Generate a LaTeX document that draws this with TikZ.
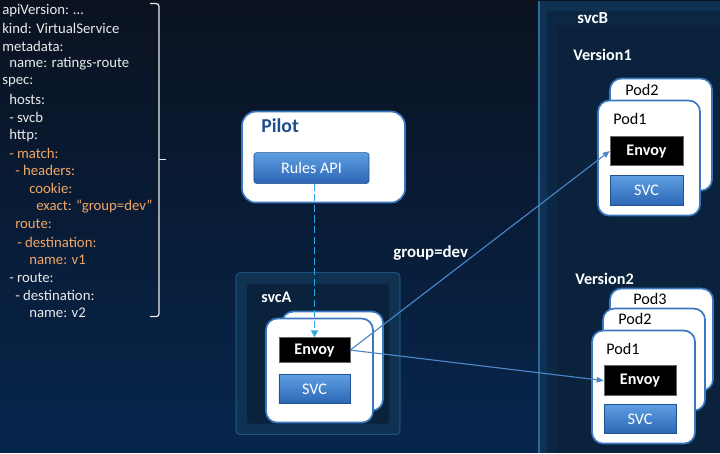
\documentclass[tikz,border=0pt]{standalone}
\usepackage{fontspec}
\setmainfont{Carlito}
\usetikzlibrary{positioning,arrows.meta}

\definecolor{bgtop}{HTML}{0A1220}
\definecolor{bgbot}{HTML}{07264E}
\definecolor{panel}{HTML}{0F3152}
\definecolor{panelin}{HTML}{0A223C}
\definecolor{paneledge}{HTML}{2A6A9A}
\definecolor{podblue}{HTML}{3C78C0}
\definecolor{btntop}{HTML}{5E9EE2}
\definecolor{btnbot}{HTML}{2C66B4}
\definecolor{pilotblue}{HTML}{1F4E8C}
\definecolor{yamlw}{HTML}{EAEAEA}
\definecolor{yamlo}{HTML}{F0A766}
\definecolor{linkblue}{HTML}{4A86C8}
\definecolor{dashcyan}{HTML}{2AA8E6}

\begin{document}
\begin{tikzpicture}[x=0.025cm, y=-0.025cm,
    yaml/.style={anchor=west, inner sep=0pt, font=\fontsize{10.5}{12}\selectfont},
    title/.style={anchor=west, inner sep=0pt, text=white, font=\fontsize{11.5}{13}\bfseries},
    podbox/.style={draw=podblue, line width=1.2pt, fill=white, rounded corners=8pt},
    podlabel/.style={anchor=west, inner sep=0pt, font=\fontsize{11.5}{13}\selectfont},
    btnbox/.style={draw=btnbot!80!black, top color=btntop, bottom color=btnbot, text=white,
        rounded corners=2pt, font=\fontsize{11.5}{13}\selectfont},
    envoybox/.style={draw=black!60, fill=black, text=white, font=\fontsize{11.5}{13}\bfseries},
    link/.style={draw=linkblue, line width=0.8pt, -{Triangle[length=5pt,width=4pt]}}
]
    % background and panels
    \fill[top color=bgtop, bottom color=bgbot] (0,0) rectangle (720,452);
    \fill[panel] (539,0) rectangle (720,452);
    \draw[paneledge, line width=0.8pt] (539,0) -- (539,452);
    \fill[panelin!70!panel] (547,10) rectangle (720,452);
    \fill[panelin] (557,25) rectangle (720,452);
    \filldraw[fill=panel, draw=paneledge, rounded corners=3pt] (236,272) rectangle (400,434);
    \fill[panelin, rounded corners=2pt] (247,283) rectangle (389,423);

    % yaml
    \foreach \ln/\dx/\col/\txt in {
        1/2/yamlw/apiVersion: …, 2/2/yamlw/kind: VirtualService, 3/2/yamlw/metadata:,
        4/9/yamlw/name: ratings-route, 5/2/yamlw/spec:, 6/9/yamlw/hosts:, 7/9/yamlw/- svcb,
        8/9/yamlw/http:, 9/9/yamlo/- match:, 10/15/yamlo/- headers:, 11/29/yamlo/cookie:,
        12/36/yamlo/exact: “group=dev”, 13/15/yamlo/route:, 14/17/yamlo/- destination:,
        15/29/yamlo/name: v1, 16/9/yamlw/- route:, 17/15/yamlw/- destination:, 18/29/yamlw/name: v2}
        \node[yaml, text=\col] (y\ln) at (\dx, {10+17.8*(\ln-1)}) {\txt};
    \draw[yamlw, line width=0.9pt, rounded corners=2pt] (150,3) -- (159,3) -- (159,316) -- (150,316);
    \draw[yamlw, line width=0.9pt] (159,159) -- (166,159);

    % pilot
    \node[podbox, minimum width=4.075cm, minimum height=2.275cm, rounded corners=10pt] (pilot) at (323.5,156.5) {};
    \node[anchor=west, inner sep=0pt, text=pilotblue, font=\fontsize{14}{16}\bfseries] (pilotlbl) at (261,125) {Pilot};
    \node[btnbox, minimum width=2.875cm, minimum height=0.775cm] (rules) at (311.5,167.5) {Rules API};

    % svcA
    \node[title] (svcA) at (261,297) {svcA};
    \node[podbox, minimum width=2.525cm, minimum height=2.475cm] (podA2) at (332.5,360.5) {};
    \node[podbox, minimum width=2.675cm, minimum height=2.6cm] (podA1) at (319.5,370) {};
    \node[envoybox, minimum width=1.775cm, minimum height=0.625cm] (envA) at (314.5,349.5) {Envoy};
    \node[btnbox, rounded corners=0pt, minimum width=1.775cm, minimum height=0.725cm] (svcboxA) at (314.5,388.5) {SVC};

    % svcB
    \node[title, font=\fontsize{12}{14}\bfseries] (svcB) at (577,18) {svcB};
    \node[title] (ver1) at (573,54) {Version1};
    \node[podbox, minimum width=2.55cm, minimum height=2.8cm] (podB2) at (661,134) {};
    \node[podlabel] at (625,89) {Pod2};
    \node[podbox, minimum width=2.55cm, minimum height=2.875cm] (podB1) at (649,157.5) {};
    \node[podlabel] at (613,118) {Pod1};
    \node[envoybox, minimum width=1.825cm, minimum height=0.725cm] (envV1) at (646.5,150.5) {Envoy};
    \node[btnbox, rounded corners=0pt, minimum width=1.825cm, minimum height=0.75cm] (svcV1) at (646.5,190) {SVC};

    \node[title] (ver2) at (575,278) {Version2};
    \node[podbox, minimum width=2.575cm, minimum height=2.55cm] (podC3) at (661.5,339) {};
    \node[podlabel] at (633,298) {Pod3};
    \node[podbox, minimum width=2.55cm, minimum height=2.55cm] (podC2) at (654,359) {};
    \node[podlabel] at (618,318) {Pod2};
    \node[podbox, minimum width=2.575cm, minimum height=2.825cm] (podC1) at (643.5,386.5) {};
    \node[podlabel] at (606,348) {Pod1};
    \node[envoybox, minimum width=1.8cm, minimum height=0.75cm] (envV2) at (640,380) {Envoy};
    \node[btnbox, rounded corners=0pt, minimum width=1.8cm, minimum height=0.725cm] (svcV2) at (640,418.5) {SVC};

    % connectors
    \draw[dashcyan, line width=1.4pt, dash pattern=on 5pt off 2.5pt, -{Triangle[length=5pt,width=5pt]}] (rules.south -| envA.north) -- (envA.north);
    \draw[link] (envA.east) -- (envV1.west);
    \draw[link] (envA.east) -- (envV2.west);
    \node[title, font=\fontsize{12}{14}\bfseries] (grp) at (393,252) {group=dev};
\end{tikzpicture}
\end{document}
